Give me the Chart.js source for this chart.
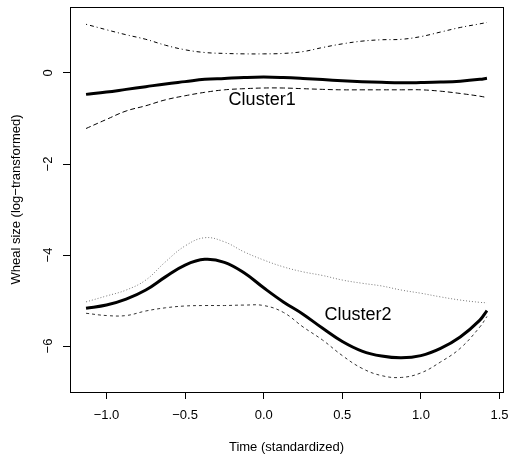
<!DOCTYPE html>
<html lang="en">
<head>
    <meta charset="UTF-8">
    <title>Wheal size by cluster</title>
    <script src="https://cdn.jsdelivr.net/npm/chart.js"></script>
    <style>
        body { margin: 0; background: #fff; }
    </style>
</head>
<body>
    <canvas id="wheelChart" width="511" height="463"></canvas>
    <script>
        // time grid (standardized) shared by all curves
        const timeGrid = [-1.13, -1.0, -0.875, -0.75, -0.625, -0.5, -0.375, -0.25, -0.125, 0, 0.125, 0.25,
                          0.375, 0.5, 0.625, 0.75, 0.875, 1.0, 1.125, 1.25, 1.375, 1.42];

        // Cluster 1
        const c1Mean  = [-0.47, -0.42, -0.36, -0.30, -0.24, -0.19, -0.14, -0.12, -0.10, -0.09, -0.10, -0.12,
                         -0.145, -0.17, -0.19, -0.205, -0.215, -0.21, -0.20, -0.18, -0.14, -0.115];
        const c1Upper = [1.07, 0.95, 0.84, 0.74, 0.61, 0.51, 0.45, 0.43, 0.42, 0.42, 0.43, 0.47,
                         0.56, 0.64, 0.70, 0.73, 0.74, 0.80, 0.90, 1.00, 1.08, 1.11];
        const c1Lower = [-1.22, -1.02, -0.835, -0.72, -0.59, -0.50, -0.425, -0.37, -0.345, -0.33, -0.33, -0.345,
                         -0.36, -0.37, -0.37, -0.37, -0.37, -0.37, -0.40, -0.45, -0.51, -0.54];

        // Cluster 2
        const c2Mean  = [-5.17, -5.10, -4.97, -4.77, -4.48, -4.22, -4.095, -4.16, -4.39, -4.72, -5.03, -5.30,
                         -5.61, -5.90, -6.11, -6.22, -6.26, -6.21, -6.05, -5.80, -5.43, -5.22];
        const c2Upper = [-5.03, -4.90, -4.77, -4.55, -4.15, -3.80, -3.62, -3.71, -3.93, -4.11, -4.26, -4.37,
                         -4.45, -4.55, -4.62, -4.68, -4.77, -4.84, -4.92, -4.99, -5.04, -5.05];
        const c2Lower = [-5.28, -5.33, -5.33, -5.23, -5.16, -5.12, -5.11, -5.11, -5.10, -5.11, -5.26, -5.58,
                         -5.87, -6.21, -6.49, -6.65, -6.69, -6.59, -6.35, -6.05, -5.58, -5.35];

        const xTicks = [-1.0, -0.5, 0.0, 0.5, 1.0, 1.5];
        const yTicks = [-6, -4, -2, 0];

        const clusterNames = ['Cluster1', 'Cluster2'];
        const clusterLabelX = [-0.01, 0.60];
        const clusterLabelY = [-0.59, -5.32];

        const FONT = '"Liberation Sans", Arial, Helvetica, sans-serif';
        const sign = v => (v < 0 ? '\u2212' : '');

        function pts(ys) {
            return timeGrid.map((t, i) => ({ x: t, y: ys[i] }));
        }

        function curve(ys, color, width, dash) {
            return {
                data: pts(ys),
                borderColor: color,
                borderWidth: width,
                borderDash: dash,
                pointRadius: 0,
                fill: false,
                tension: 0.4
            };
        }

        // box around the plot area plus the in-plot cluster labels
        const boxPlugin = {
            id: 'boxPlugin',
            afterDraw(chart) {
                const ctx = chart.ctx;
                const a = chart.chartArea;
                ctx.save();
                ctx.strokeStyle = '#000';
                ctx.lineWidth = 1;
                ctx.strokeRect(Math.round(a.left) + 0.5, Math.round(a.top) + 0.5,
                               Math.round(a.right - a.left), Math.round(a.bottom - a.top));
                ctx.fillStyle = '#000';
                ctx.font = '18px ' + FONT;
                ctx.textAlign = 'center';
                ctx.textBaseline = 'middle';
                clusterNames.forEach((name, i) => {
                    ctx.fillText(name, chart.scales.x.getPixelForValue(clusterLabelX[i]),
                                 chart.scales.y.getPixelForValue(clusterLabelY[i]));
                });
                ctx.restore();
            }
        };

        const ctx = document.getElementById('wheelChart').getContext('2d');
        new Chart(ctx, {
            type: 'line',
            data: {
                datasets: [
                    curve(c1Upper, '#000', 1, [1, 3, 4, 3]),
                    curve(c1Lower, '#000', 1, [5, 3]),
                    curve(c1Mean, '#000', 3, []),
                    curve(c2Upper, '#777', 1, [1, 2]),
                    curve(c2Lower, '#333', 1, [3, 3]),
                    curve(c2Mean, '#000', 3, [])
                ]
            },
            options: {
                responsive: false,
                animation: false,
                layout: { padding: { top: 7, right: 8, left: 0, bottom: 0 } },
                plugins: { legend: { display: false }, tooltip: { enabled: false } },
                scales: {
                    x: {
                        type: 'linear',
                        min: -1.232,
                        max: 1.522,
                        afterBuildTicks: s => { s.ticks = xTicks.map(v => ({ value: v })); },
                        afterFit: s => { s.height = 71; s.paddingLeft = 0; s.paddingRight = 0; },
                        border: { display: false },
                        grid: { drawOnChartArea: false, drawTicks: true, tickLength: 7, tickColor: '#000' },
                        ticks: {
                            color: '#000',
                            font: { family: FONT, size: 13 },
                            padding: 9,
                            maxRotation: 0,
                            callback: v => sign(v) + Math.abs(v).toFixed(1)
                        },
                        title: {
                            display: true,
                            text: 'Time (standardized)',
                            color: '#000',
                            font: { family: FONT, size: 13 },
                            padding: { bottom: 8 }
                        }
                    },
                    y: {
                        type: 'linear',
                        min: -7.01,
                        max: 1.45,
                        afterBuildTicks: s => { s.ticks = yTicks.map(v => ({ value: v })); },
                        afterFit: s => { s.width = 70; s.paddingTop = 0; s.paddingBottom = 0; },
                        border: { display: false },
                        grid: { drawOnChartArea: false, drawTicks: true, tickLength: 7, tickColor: '#000' },
                        ticks: {
                            color: '#000',
                            font: { family: FONT, size: 13 },
                            minRotation: 90,
                            maxRotation: 90,
                            crossAlign: 'center',
                            padding: 7,
                            callback: v => sign(v) + Math.abs(v)
                        },
                        title: {
                            display: true,
                            text: 'Wheal size (log\u2212transformed)',
                            color: '#000',
                            font: { family: FONT, size: 13 },
                            padding: { top: 9 }
                        }
                    }
                }
            },
            plugins: [boxPlugin]
        });
    </script>
</body>
</html>
